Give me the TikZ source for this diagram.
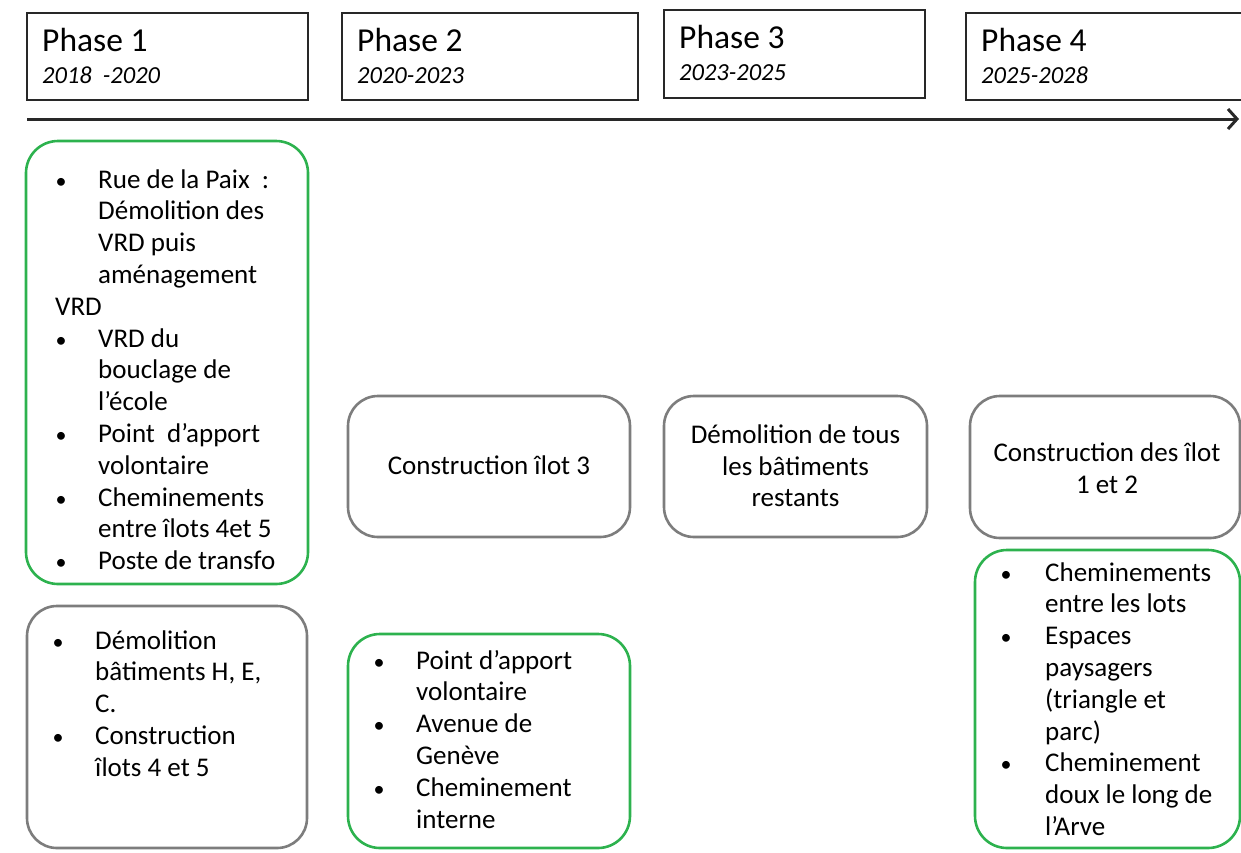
\documentclass[tikz,border=0pt]{standalone}
\usepackage{fontspec}
\setmainfont{Carlito}
\usetikzlibrary{arrows.meta}
\definecolor{boxgreen}{RGB}{45,178,78}
\definecolor{boxgray}{RGB}{125,125,125}
\definecolor{darkline}{RGB}{40,40,40}
\newcommand{\txtlines}[4]{%
  \foreach \t [count=\i from 0] in {#4} {%
    \node[txt, anchor=base west] (#3-\i) at (#1, {#2+\i*31.8}) {\t};}}
\newcommand{\bulletat}[4]{%
  \foreach \j in {#4} {%
    \node[bul, anchor=base] (#3-b\j) at (#1, {#2+\j*31.8}) {\textbullet};}}
\begin{document}
\begin{tikzpicture}[x=1pt,y=-1pt,
  phasebox/.style={draw=darkline, line width=1.8pt, rectangle, inner sep=0pt},
  gbox/.style={draw=boxgreen, line width=2.6pt, rounded corners=32pt, rectangle, inner sep=0pt},
  kbox/.style={draw=boxgray, line width=2.6pt, rounded corners=30pt, rectangle, inner sep=0pt},
  txt/.style={inner sep=0pt, font=\fontsize{27}{31.8}\selectfont},
  bul/.style={inner sep=0pt, font=\fontsize{22}{31.8}\selectfont},
  ctxt/.style={inner sep=0pt, font=\fontsize{27}{31.8}\selectfont, anchor=base},
  phtitle/.style={inner sep=0pt, anchor=base west, font=\fontsize{33.5}{38}\selectfont},
  phyear/.style={inner sep=0pt, anchor=base west, font=\fontsize{24.5}{28}\selectfont\itshape}]
\useasboundingbox (0,0) rectangle (1241,852);
% phase header boxes
\node[phasebox, minimum width=281pt, minimum height=87pt] (p1) at (167.5,56.5) {};
\node[phasebox, minimum width=296pt, minimum height=87pt] (p2) at (490,56.5) {};
\node[phasebox, minimum width=261pt, minimum height=88pt] (p3) at (794.5,54) {};
\node[phasebox, minimum width=279pt, minimum height=87pt] (p4) at (1105.5,56.5) {};
\node[phtitle] (t1) at (42,51) {Phase 1};
\node[phyear] (y1) at (42,83) {2018\ \ -2020};
\node[phtitle] (t2) at (357,51) {Phase 2};
\node[phyear] (y2) at (357,83) {2020-2023};
\node[phtitle] (t3) at (679,48) {Phase 3};
\node[phyear] (y3) at (679,80) {2023-2025};
\node[phtitle] (t4) at (981,51) {Phase 4};
\node[phyear] (y4) at (981,83) {2025-2028};
% time axis
\coordinate (a0) at (27,119);
\coordinate (a1) at (1239,119);
\draw[darkline, line width=3pt, -{Straight Barb[length=9pt,width=20pt,line width=3pt]}] (a0) -- (a1);
% content boxes
\node[gbox, minimum width=282pt, minimum height=443pt] (g1) at (167,362.5) {};
\node[kbox, minimum width=280pt, minimum height=242pt] (k1) at (167,727) {};
\node[kbox, minimum width=282pt, minimum height=141pt] (k2) at (489,466.5) {};
\node[gbox, minimum width=282pt, minimum height=214pt] (g2) at (489,741) {};
\node[kbox, minimum width=263pt, minimum height=141pt] (k3) at (795.5,466.5) {};
\node[kbox, minimum width=270pt, minimum height=142pt] (k4) at (1105,467) {};
\node[gbox, minimum width=265pt, minimum height=298pt] (g4) at (1107.5,699) {};
% phase 1 green list
\txtlines{98}{188}{g1t}{Rue de la Paix\ \ :,Démolition des,VRD puis,aménagement}
\node[txt, anchor=base west] (g1vrd) at (55,{188+4*31.8}) {VRD};
\node[txt, anchor=base west] (g1a) at (98,{188+5*31.8}) {VRD du};
\node[txt, anchor=base west] (g1b) at (98,{188+6*31.8}) {bouclage de};
\node[txt, anchor=base west] (g1c) at (98,{188+7*31.8}) {l’école};
\node[txt, anchor=base west] (g1d) at (98,{188+8*31.8}) {Point\ \ d’apport};
\node[txt, anchor=base west] (g1e) at (98,{188+9*31.8}) {volontaire};
\node[txt, anchor=base west] (g1f) at (98,{188+10*31.8}) {Cheminements};
\node[txt, anchor=base west] (g1g) at (98,{188+11*31.8}) {entre îlots 4et 5};
\node[txt, anchor=base west] (g1h) at (98,{188+12*31.8}) {Poste de transfo};
\bulletat{61}{188}{g1}{0,5,8,10,12}
% phase 1 gray list
\txtlines{95}{649}{k1t}{Démolition,{bâtiments H, E,},C.,Construction,îlots 4 et 5}
\bulletat{58}{649}{k1}{0,3}
% phase 2
\node[ctxt] (k2t) at (489,474) {Construction îlot 3};
\txtlines{416}{669}{g2t}{Point d’apport,volontaire,Avenue de,Genève,Cheminement,interne}
\bulletat{379}{669}{g2}{0,2,4}
% phase 3
\node[ctxt] (k3a) at (795.5,443) {Démolition de tous};
\node[ctxt] (k3b) at (795.5,475) {les bâtiments};
\node[ctxt] (k3c) at (795.5,506) {restants};
% phase 4
\node[ctxt] (k4a) at (1107,461) {Construction des îlot};
\node[ctxt] (k4b) at (1107,493) {1 et 2};
\txtlines{1045}{581}{g4t}{Cheminements,entre les lots,Espaces,paysagers,{(triangle et},{parc)},Cheminement,doux le long de,l’Arve}
\bulletat{1006}{581}{g4}{0,2,6}
\end{tikzpicture}
\end{document}
